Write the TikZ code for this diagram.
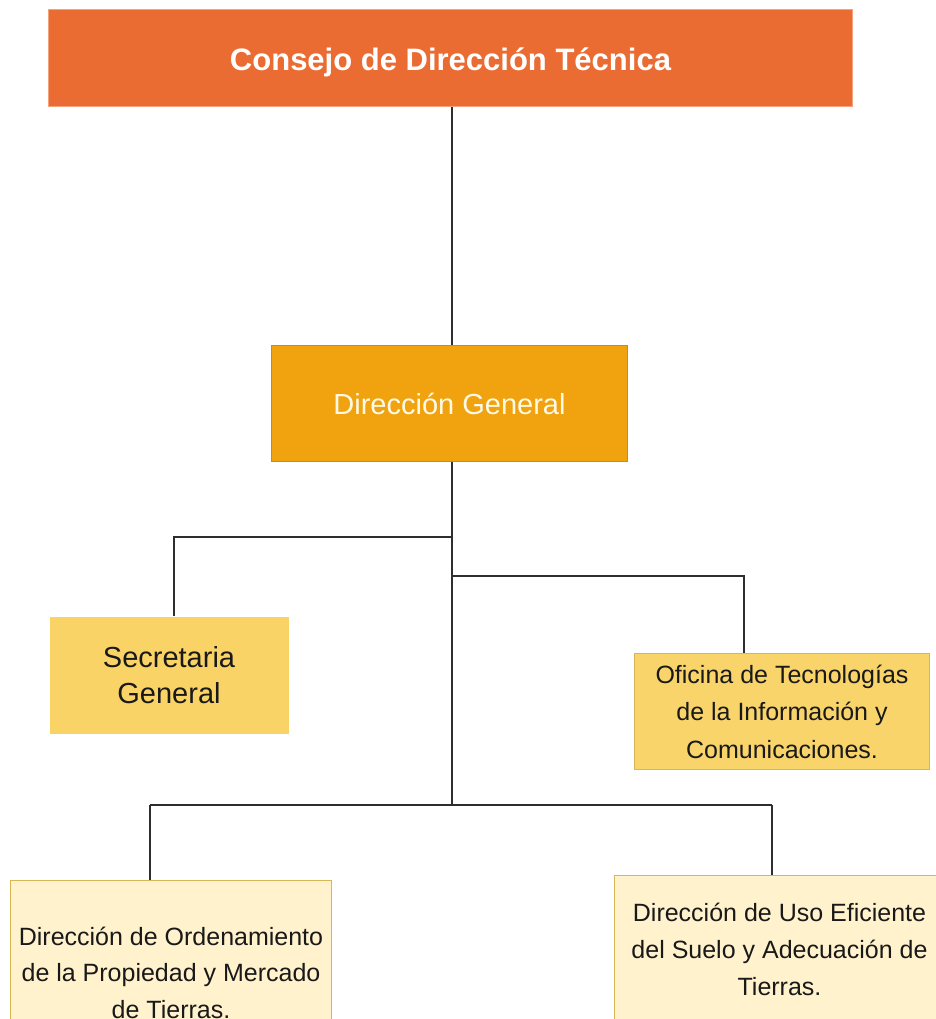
\documentclass[tikz,border=0pt]{standalone}
\usepackage{fontspec}
\setmainfont{Liberation Sans}
\definecolor{titlefill}{HTML}{EB6C33}
\definecolor{titledraw}{HTML}{F4A27C}
\definecolor{dgfill}{HTML}{F0A30F}
\definecolor{dgdraw}{HTML}{D08A0C}
\definecolor{secfill}{HTML}{F9D366}
\definecolor{ofifill}{HTML}{F9D46B}
\definecolor{ofidraw}{HTML}{D6B656}
\definecolor{lowfill}{HTML}{FFF2CC}
\definecolor{lowdraw}{HTML}{D6B656}
\definecolor{linecol}{HTML}{2E2E2E}
\definecolor{dgtext}{HTML}{FFF9E6}
\tikzset{
  box/.style={rectangle, anchor=north west, align=center, inner sep=0pt, line width=1pt},
  conn/.style={draw=linecol, line width=1.5pt}
}
\begin{document}
\begin{tikzpicture}[x=1pt,y=-1pt]
\clip (0,0) rectangle (936,1019);
\fill[white] (0,0) rectangle (936,1019);

\node[box, fill=titlefill, draw=titledraw, minimum width=804pt, minimum height=97pt,
      text=white, font=\fontsize{31}{36}\selectfont\bfseries] (top) at (48,9)
      {\smash{\raisebox{-12.5pt}{Consejo de Dirección Técnica}}};

\node[box, fill=dgfill, draw=dgdraw, minimum width=356pt, minimum height=116pt,
      text=dgtext, font=\fontsize{29}{36}\selectfont] (dg) at (271,345)
      {Dirección General};

\node[box, fill=secfill, minimum width=239pt, minimum height=117pt,
      text=black!90, font=\fontsize{29}{36}\selectfont] (sec) at (49,616)
      {Secretaria\\General};

\node[box, fill=ofifill, draw=ofidraw, minimum width=295pt, minimum height=116pt,
      text=black!90, font=\fontsize{25}{37.5}\selectfont] (ofi) at (634,653)
      {Oficina de Tecnologías\\de la Información y\\Comunicaciones.};

\node[box, fill=lowfill, draw=lowdraw, minimum width=321pt, minimum height=184pt,
      text=black!90, font=\fontsize{25}{36.5}\selectfont] (ord) at (10,880)
      {Dirección de Ordenamiento\\de la Propiedad y Mercado\\de Tierras.};

\node[box, fill=lowfill, draw=lowdraw, minimum width=330pt, minimum height=148pt,
      text=black!90, font=\fontsize{25}{37}\selectfont] (uso) at (614,875)
      {Dirección de Uso Eficiente\\del Suelo y Adecuación de\\Tierras.};

\coordinate (tx) at (452,0);
\coordinate (j1) at (452,537);
\coordinate (j2) at (452,576);
\coordinate (j3) at (452,805);
\coordinate (secx) at (174,537);
\coordinate (ofix) at (744,576);
\coordinate (ordx) at (150,805);
\coordinate (usox) at (772,805);

\draw[conn] (top.south -| tx) -- (dg.north -| tx);
\draw[conn] (dg.south -| tx) -- (j3);
\draw[conn] (j1) -- (secx) -- (secx |- sec.north);
\draw[conn] (j2) -- (ofix) -- (ofix |- ofi.north);
\draw[conn] (ordx) -- (usox);
\draw[conn] (ordx) -- (ordx |- ord.north);
\draw[conn] (usox) -- (usox |- uso.north);
\end{tikzpicture}
\end{document}
